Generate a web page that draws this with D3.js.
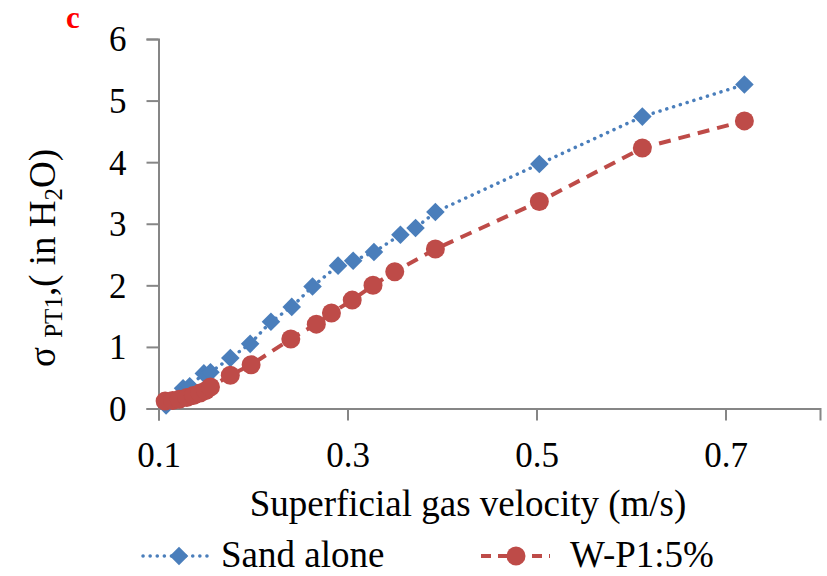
<!DOCTYPE html>
<html>
<head>
<script src="https://d3js.org/d3.v7.min.js"></script>
<style>
  body { margin: 0; background: #fff; }
  svg text { font-family: "Liberation Serif", "Times New Roman", serif; fill: #000; }
</style>
</head>
<body>
<svg id="chart" width="827" height="576"></svg>
<script>
// Sand alone
const sandX = [0.108, 0.126, 0.133, 0.148, 0.155, 0.176, 0.197, 0.219, 0.241, 0.263, 0.29, 0.306, 0.328, 0.356, 0.372, 0.393, 0.503, 0.612, 0.72];
const sandY = [0.05, 0.33, 0.36, 0.57, 0.59, 0.82, 1.05, 1.41, 1.65, 1.98, 2.32, 2.40, 2.54, 2.82, 2.93, 3.19, 3.97, 4.74, 5.26];
// W-P1:5%
const wpX = [0.107, 0.115, 0.122, 0.13, 0.137, 0.144, 0.15, 0.155, 0.176, 0.198, 0.24, 0.267, 0.283, 0.305, 0.327, 0.35, 0.393, 0.503, 0.612, 0.72];
const wpY = [0.12, 0.13, 0.15, 0.18, 0.21, 0.25, 0.29, 0.35, 0.54, 0.71, 1.13, 1.37, 1.55, 1.76, 2.0, 2.22, 2.59, 3.36, 4.23, 4.67];

const xTicks = [0.1, 0.3, 0.5, 0.7];
const yTicks = [0, 1, 2, 3, 4, 5, 6];
const seriesNames = ['Sand alone', 'W-P1:5%'];

const blue = '#4a7ebb', red = '#be4b48', axisCol = '#868686';

const svg = d3.select('#chart');
const x = d3.scaleLinear().domain([0.1, 0.8]).range([158.5, 820]);
const y = d3.scaleLinear().domain([0, 6]).range([408.5, 39]);

// axes
const xAxis = svg.append('g').attr('transform', `translate(0,${y(0)})`)
  .call(d3.axisBottom(x).tickValues(xTicks).tickSize(12).tickPadding(22).tickFormat(d3.format('.1f')));
const yAxis = svg.append('g').attr('transform', `translate(${x(0.1)},0)`)
  .call(d3.axisLeft(y).tickValues(yTicks).tickSize(12).tickPadding(20).tickFormat(d3.format('d')));
[xAxis, yAxis].forEach(a => {
  a.select('.domain').attr('stroke', axisCol).attr('stroke-width', 2);
  a.selectAll('.tick line').attr('stroke', axisCol).attr('stroke-width', 2);
  a.selectAll('.tick text').attr('font-size', 35).attr('font-family', '"Liberation Serif", serif').attr('fill', '#000');
});
yAxis.selectAll('.tick text').attr('dy', '0.34em');

const sand = sandX.map((v, i) => [v, sandY[i]]);
const wp = wpX.map((v, i) => [v, wpY[i]]);
const line = d3.line().x(d => x(d[0])).y(d => y(d[1]));

svg.append('path').datum(sand).attr('d', line).attr('fill', 'none')
  .attr('stroke', blue).attr('stroke-width', 3.5).attr('stroke-linecap', 'round').attr('stroke-dasharray', '0.1 7');
svg.append('path').datum(wp).attr('d', line).attr('fill', 'none')
  .attr('stroke', red).attr('stroke-width', 4).attr('stroke-dasharray', '12 8');

const diamond = d3.symbol().type(d3.symbolDiamond2).size(220);
svg.append('g').selectAll('path').data(sand).join('path')
  .attr('d', diamond).attr('transform', d => `translate(${x(d[0])},${y(d[1])})`).attr('fill', blue);
svg.append('g').selectAll('circle').data(wp).join('circle')
  .attr('cx', d => x(d[0])).attr('cy', d => y(d[1])).attr('r', 9.5).attr('fill', red);

// axis titles
svg.append('text').attr('x', 468).attr('y', 516).attr('text-anchor', 'middle').attr('font-size', 37)
  .text('Superficial gas velocity (m/s)');

const yl = svg.append('text').attr('transform', 'translate(55,258) rotate(-90)').attr('text-anchor', 'middle').attr('font-size', 37);
yl.append('tspan').text('σ ');
yl.append('tspan').attr('font-size', 25).attr('dy', 7).text('PT1');
yl.append('tspan').attr('dy', -7).text(',( in H');
yl.append('tspan').attr('font-size', 25).attr('dy', 7).text('2');
yl.append('tspan').attr('dy', -7).text('O)');

// panel letter
svg.append('text').attr('x', 66).attr('y', 28).attr('font-size', 31).attr('font-weight', 'bold')
  .style('fill', '#ff0000').text('c');

// legend
const leg = svg.append('g');
leg.append('line').attr('x1', 143).attr('x2', 208).attr('y1', 556).attr('y2', 556)
  .attr('stroke', blue).attr('stroke-width', 3.5).attr('stroke-linecap', 'round').attr('stroke-dasharray', '0.1 7');
leg.append('path').attr('d', diamond).attr('transform', 'translate(179,556)').attr('fill', blue);
leg.append('text').attr('x', 221).attr('y', 567).attr('font-size', 37).text(seriesNames[0]);
leg.append('line').attr('x1', 481).attr('x2', 550).attr('y1', 556).attr('y2', 556)
  .attr('stroke', red).attr('stroke-width', 4).attr('stroke-dasharray', '10 7');
leg.append('circle').attr('cx', 516).attr('cy', 556).attr('r', 9.5).attr('fill', red);
leg.append('text').attr('x', 570).attr('y', 567).attr('font-size', 37).text(seriesNames[1]);
</script>
</body>
</html>
